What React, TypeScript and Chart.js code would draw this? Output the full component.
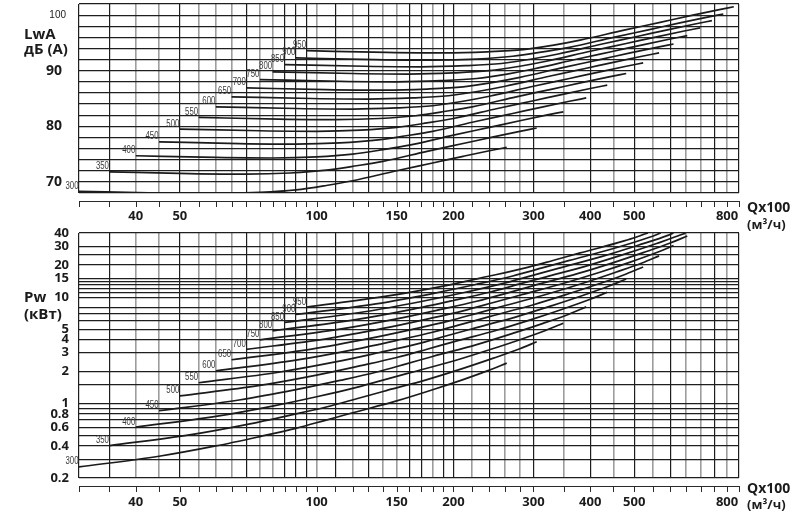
import React, { useEffect, useRef } from "react";
import { Chart, registerables } from "chart.js";

Chart.register(...registerables);

// ---- Data -----------------------------------------------------------------
const rpm = [300, 350, 400, 450, 500, 550, 600, 650, 700, 750, 800, 850, 900, 950];

// Air flow Q (x100 m3/h) sample points along each curve
const q300 = [30, 45, 60, 75, 90, 105, 120, 150, 180, 210, 240, 262];
const q350 = [35, 52.5, 70, 87.5, 105, 122.5, 140, 175, 210, 245, 280, 305];
const q400 = [40, 60, 80, 100, 120, 140, 160, 200, 240, 280, 320, 349];
const q450 = [45, 67.5, 90, 112.5, 135, 157.5, 180, 225, 270, 315, 360, 392];
const q500 = [50, 75, 100, 125, 150, 175, 200, 250, 300, 350, 400, 436];
const q550 = [55, 82.5, 110, 137.5, 165, 192.5, 220, 275, 330, 385, 440, 480];
const q600 = [60, 90, 120, 150, 180, 210, 240, 300, 360, 420, 480, 523];
const q650 = [65, 97.5, 130, 162.5, 195, 227.5, 260, 325, 390, 455, 520, 567];
const q700 = [70, 105, 140, 175, 210, 245, 280, 350, 420, 490, 560, 610];
const q750 = [75, 112.5, 150, 187.5, 225, 262.5, 300, 375, 450, 525, 600, 654];
const q800 = [80, 120, 160, 200, 240, 280, 320, 400, 480, 560, 640, 698];
const q850 = [85, 127.5, 170, 212.5, 255, 297.5, 340, 425, 510, 595, 680, 741];
const q900 = [90, 135, 180, 225, 270, 315, 360, 450, 540, 630, 720, 785];
const q950 = [95, 142.5, 190, 237.5, 285, 332.5, 380, 475, 570, 665, 760, 828];

// Sound power LwA, dB(A)
const lwa300 = [68.3, 68.0, 67.9, 68.1, 68.55, 69.35, 70.2, 72.0, 73.4, 74.6, 75.6, 76.2];
const lwa350 = [71.8, 71.5, 71.4, 71.6, 72.1, 72.9, 73.7, 75.5, 76.9, 78.1, 79.1, 79.7];
const lwa400 = [74.7, 74.4, 74.3, 74.5, 75.0, 75.8, 76.6, 78.4, 79.8, 81.0, 82.0, 82.6];
const lwa450 = [77.2, 76.9, 76.8, 77.0, 77.5, 78.3, 79.1, 80.9, 82.3, 83.5, 84.5, 85.1];
const lwa500 = [79.5, 79.2, 79.1, 79.3, 79.8, 80.6, 81.4, 83.2, 84.6, 85.8, 86.8, 87.4];
const lwa550 = [81.6, 81.3, 81.2, 81.4, 81.9, 82.7, 83.5, 85.3, 86.7, 87.9, 88.9, 89.5];
const lwa600 = [83.5, 83.2, 83.1, 83.3, 83.7, 84.5, 85.4, 87.2, 88.6, 89.8, 90.8, 91.4];
const lwa650 = [85.3, 85.0, 84.9, 85.1, 85.5, 86.3, 87.2, 89.0, 90.4, 91.6, 92.6, 93.2];
const lwa700 = [86.9, 86.6, 86.5, 86.7, 87.1, 87.9, 88.8, 90.6, 92.0, 93.2, 94.2, 94.8];
const lwa750 = [88.4, 88.1, 88.0, 88.2, 88.6, 89.4, 90.3, 92.1, 93.5, 94.7, 95.7, 96.3];
const lwa800 = [89.8, 89.5, 89.4, 89.6, 90.0, 90.8, 91.7, 93.5, 94.9, 96.1, 97.1, 97.7];
const lwa850 = [91.1, 90.8, 90.7, 90.9, 91.3, 92.1, 93.0, 94.8, 96.2, 97.4, 98.4, 99.0];
const lwa900 = [92.3, 92.0, 91.9, 92.1, 92.6, 93.4, 94.2, 96.0, 97.4, 98.6, 99.6, 100.2];
const lwa950 = [93.6, 93.3, 93.2, 93.4, 93.8, 94.6, 95.5, 97.3, 98.7, 99.9, 100.9, 101.5];

// Shaft power Pw, kW (curves 800..950 leave the chart at 40 kW)
const pw300 = [0.254, 0.32, 0.4, 0.49, 0.585, 0.7, 0.82, 1.06, 1.35, 1.68, 2.06, 2.4];
const pw350 = [0.403, 0.508, 0.635, 0.778, 0.929, 1.11, 1.3, 1.68, 2.14, 2.67, 3.27, 3.81];
const pw400 = [0.602, 0.758, 0.948, 1.16, 1.39, 1.66, 1.94, 2.51, 3.2, 3.98, 4.88, 5.69];
const pw450 = [0.857, 1.08, 1.35, 1.65, 1.97, 2.36, 2.77, 3.58, 4.56, 5.67, 6.95, 8.1];
const pw500 = [1.18, 1.48, 1.85, 2.27, 2.71, 3.24, 3.8, 4.91, 6.25, 7.78, 9.54, 11.1];
const pw550 = [1.57, 1.97, 2.46, 3.02, 3.6, 4.31, 5.05, 6.53, 8.32, 10.35, 12.7, 14.8];
const pw600 = [2.03, 2.56, 3.2, 3.92, 4.68, 5.6, 6.56, 8.48, 10.8, 13.4, 16.5, 19.2];
const pw650 = [2.58, 3.25, 4.07, 4.98, 5.95, 7.12, 8.34, 10.8, 13.7, 17.1, 20.9, 24.4];
const pw700 = [3.23, 4.06, 5.08, 6.22, 7.43, 8.89, 10.4, 13.5, 17.1, 21.3, 26.2, 30.5];
const pw750 = [3.97, 5.0, 6.25, 7.66, 9.14, 10.9, 12.8, 16.6, 21.1, 26.3, 32.2, 37.5];
const pw800 = [4.82, 6.07, 7.58, 9.29, 11.1, 13.3, 15.5, 20.1, 25.6, 31.9, 39.1, 40];
const pw850 = [5.78, 7.28, 9.1, 11.1, 13.3, 15.9, 18.6, 24.1, 30.7, 38.2, 40];
const pw900 = [6.86, 8.64, 10.8, 13.2, 15.8, 18.9, 22.1, 28.6, 36.5, 40];
const pw950 = [8.06, 10.2, 12.7, 15.6, 18.6, 22.2, 26.0, 33.7, 40];
const pwQ800 = [80, 120, 160, 200, 240, 280, 320, 400, 480, 560, 640, 648];
const pwQ850 = [85, 127.5, 170, 212.5, 255, 297.5, 340, 425, 510, 595, 610];
const pwQ900 = [90, 135, 180, 225, 270, 315, 360, 450, 540, 572];
const pwQ950 = [95, 142.5, 190, 237.5, 285, 332.5, 380, 475, 536];

const qByRpm = [q300, q350, q400, q450, q500, q550, q600, q650, q700, q750, q800, q850, q900, q950];
const lwaByRpm = [lwa300, lwa350, lwa400, lwa450, lwa500, lwa550, lwa600, lwa650, lwa700, lwa750, lwa800, lwa850, lwa900, lwa950];
const pwByRpm = [pw300, pw350, pw400, pw450, pw500, pw550, pw600, pw650, pw700, pw750, pw800, pw850, pw900, pw950];
const pwQByRpm = [q300, q350, q400, q450, q500, q550, q600, q650, q700, q750, pwQ800, pwQ850, pwQ900, pwQ950];

// Axes
const xGrid = [30, 35, 40, 45, 50, 55, 60, 65, 70, 75, 80, 85, 90, 95, 100, 110, 120, 130, 140, 150, 160, 170, 180, 190, 200, 220, 240, 260, 280, 300, 350, 400, 450, 500, 550, 600, 650, 700, 750, 800, 850];
const xGrayLines = [40, 45, 55, 60, 65, 75, 80, 100, 120, 140, 150, 180, 220, 260, 280, 350, 450, 550, 650, 700, 800];
const xTickLabels = [40, 50, 100, 150, 200, 300, 400, 500, 800];
const lwaGrid = [68, 70, 72, 74, 76, 78, 80, 82, 84, 86, 88, 90, 92, 94, 96, 98, 100, 102];
const lwaTickLabels = [70, 80, 90, 100];
const pwGrid = [0.2, 0.3, 0.4, 0.5, 0.6, 0.7, 0.8, 0.9, 1, 1.5, 2, 3, 4, 5, 6, 7, 8, 10, 11, 12, 13, 14, 15, 20, 25, 30, 40];
const pwTickLabels = [0.2, 0.4, 0.6, 0.8, 1, 2, 3, 4, 5, 10, 15, 20, 30, 40];

// ---- Styling ----------------------------------------------------------------
const BOLD = "'Open Sans', 'Liberation Sans', Arial, sans-serif";
const INK = "#1b1b1b";
const GRID = "#1e1e1e";
const GRID_GRAY = "#9d9d9d";

function drawSmall(ctx: CanvasRenderingContext2D, text: string, x: number, y: number) {
  ctx.save();
  ctx.translate(x, y);
  ctx.scale(0.78, 1);
  ctx.font = "10px 'Liberation Sans', Arial, sans-serif";
  ctx.fillStyle = "#3c3c3c";
  ctx.textAlign = "right";
  ctx.textBaseline = "alphabetic";
  ctx.fillText(text, 0, 0);
  ctx.restore();
}

function makeConfig(isTop: boolean): any {
  const datasets = rpm.map((n, i) => {
    const xs = isTop ? qByRpm[i] : pwQByRpm[i];
    const ys = isTop ? lwaByRpm[i] : pwByRpm[i];
    return {
      label: String(n),
      data: xs.map((x, j) => ({ x, y: ys[j] })),
      borderColor: INK,
      borderWidth: 1.7,
      pointRadius: 0,
      cubicInterpolationMode: "monotone",
      fill: false,
    };
  });

  const overlay = {
    id: "overlay" + (isTop ? "Top" : "Bottom"),
    afterDraw(chart: any) {
      const { ctx, chartArea } = chart;
      const xs = chart.scales.x;
      const ys = chart.scales.y;
      ctx.save();
      // curve labels
      chart.data.datasets.forEach((ds: any) => {
        const p0 = ds.data[0];
        drawSmall(ctx, ds.label, xs.getPixelForValue(p0.x) - 0.5, ys.getPixelForValue(p0.y) - 2.5);
      });
      // separate axis line with ticks
      const ay = chartArea.bottom + 8;
      ctx.strokeStyle = "#2a2a2a";
      ctx.lineWidth = 1;
      ctx.beginPath();
      ctx.moveTo(chartArea.left, ay + 0.5);
      ctx.lineTo(chartArea.right, ay + 0.5);
      xGrid.forEach((v) => {
        const x = Math.round(xs.getPixelForValue(v)) + 0.5;
        ctx.moveTo(x, ay);
        ctx.lineTo(x, ay + 6);
      });
      ctx.stroke();
      // x tick labels
      ctx.fillStyle = INK;
      ctx.font = `bold 13px ${BOLD}`;
      ctx.textAlign = "center";
      ctx.textBaseline = "middle";
      const lblY = isTop ? ay + 15 : ay + 16;
      xTickLabels.forEach((v) => ctx.fillText(String(v), xs.getPixelForValue(v), lblY));
      // x title
      ctx.textAlign = "left";
      ctx.font = `bold 14px ${BOLD}`;
      ctx.fillText("Qx100", 747, isTop ? ay + 7 : ay + 3);
      ctx.font = `bold 13px ${BOLD}`;
      ctx.fillText("(м³/ч)", 747, isTop ? ay + 24 : ay + 19.5);
      // y tick labels
      ctx.textAlign = "right";
      if (isTop) {
        lwaTickLabels.forEach((v) => {
          if (v === 100) {
            ctx.font = "10px 'Liberation Sans', Arial, sans-serif";
            ctx.fillText(String(v), 66, ys.getPixelForValue(v));
          } else {
            ctx.font = `bold 14px ${BOLD}`;
            ctx.fillText(String(v), 62, ys.getPixelForValue(v));
          }
        });
        ctx.textAlign = "left";
        ctx.font = `bold 15px ${BOLD}`;
        ctx.fillText("LwA", 24, 35);
        ctx.fillText("дБ (А)", 24, 50);
      } else {
        ctx.font = `bold 13px ${BOLD}`;
        pwTickLabels.forEach((v) => ctx.fillText(String(v), 69, ys.getPixelForValue(v)));
        ctx.textAlign = "left";
        ctx.font = `bold 15px ${BOLD}`;
        ctx.fillText("Pw", 24, 298);
        ctx.fillText("(кВт)", 24, 315);
      }
      ctx.restore();
    },
  };

  return {
    type: "line",
    data: { datasets },
    options: {
      responsive: false,
      animation: false,
      events: [],
      layout: {
        padding: isTop
          ? { top: 4, right: 62, bottom: 337, left: 0 }
          : { top: 233, right: 62, bottom: 52, left: 0 },
      },
      plugins: { legend: { display: false }, tooltip: { enabled: false } },
      scales: {
        x: {
          type: "logarithmic",
          min: 30,
          max: 850,
          afterBuildTicks: (s: any) => {
            s.ticks = xGrid.map((v) => ({ value: v }));
          },
          afterFit: (s: any) => {
            s.height = 0;
          },
          ticks: { display: false, autoSkip: false },
          grid: {
            drawTicks: false,
            color: (c: any) => (c.tick && xGrayLines.includes(c.tick.value) ? GRID_GRAY : GRID),
            lineWidth: (c: any) => (c.tick && xGrayLines.includes(c.tick.value) ? 1.6 : 1.2),
          },
          border: { display: false },
        },
        y: {
          type: isTop ? "linear" : "logarithmic",
          min: isTop ? 68 : 0.2,
          max: isTop ? 102 : 40,
          afterBuildTicks: (s: any) => {
            s.ticks = (isTop ? lwaGrid : pwGrid).map((v) => ({ value: v }));
          },
          afterFit: (s: any) => {
            s.width = 79;
          },
          ticks: { display: false, autoSkip: false },
          grid: { drawTicks: false, color: GRID, lineWidth: 1.2 },
          border: { display: false },
        },
      },
    },
    plugins: [overlay],
  };
}

export default function App() {
  const topRef = useRef<HTMLCanvasElement>(null);
  const botRef = useRef<HTMLCanvasElement>(null);

  useEffect(() => {
    const c1 = new Chart(topRef.current as HTMLCanvasElement, makeConfig(true));
    const c2 = new Chart(botRef.current as HTMLCanvasElement, makeConfig(false));
    return () => {
      c1.destroy();
      c2.destroy();
    };
  }, []);

  return (
    <div style={{ position: "absolute", left: 0, top: 0, width: 801, height: 530, background: "#fff" }}>
      <canvas ref={topRef} width={801} height={530} style={{ position: "absolute", left: 0, top: 0 }} />
      <canvas ref={botRef} width={801} height={530} style={{ position: "absolute", left: 0, top: 0 }} />
    </div>
  );
}
